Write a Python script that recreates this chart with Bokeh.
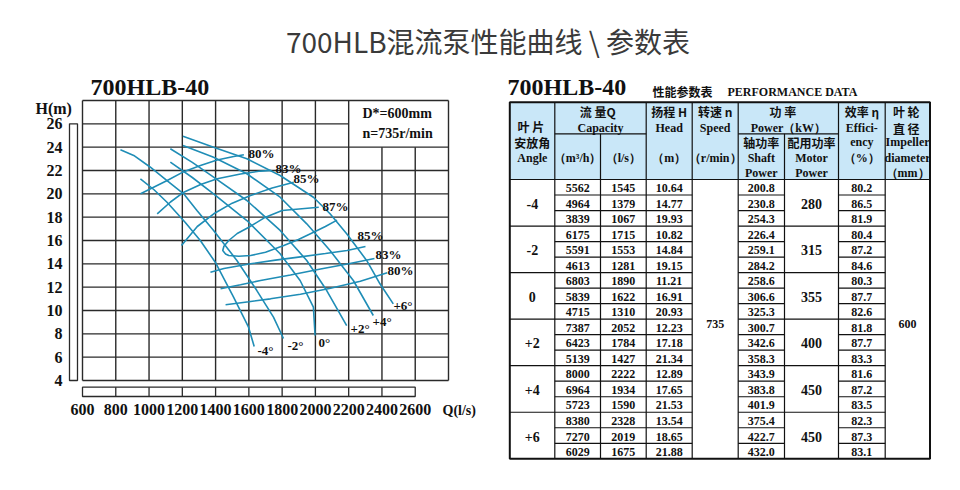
from bokeh.plotting import figure
from bokeh.models import Range1d, LinearAxis, FixedTicker, AllLabels
from bokeh.layouts import column, row
from bokeh.embed import file_html
from bokeh.resources import INLINE
from bokeh.core.properties import value

# ============================== DATA ==============================
page_title = "700HLB混流泵性能曲线 \\ 参数表"
model_name = "700HLB-40"

x_ticks = [600, 800, 1000, 1200, 1400, 1600, 1800, 2000, 2200, 2400, 2600]
y_ticks = [4, 6, 8, 10, 12, 14, 16, 18, 20, 22, 24, 26]
x_label = "Q(l/s)"
y_label = "H(m)"
note_text = ["D*=600mm", "n=735r/min"]
note_q = [2283, 2283]
note_h = [26.89, 25.17]

# blade-angle H-Q curves  (Q in l/s, H in m)
q_m4 = [948, 1030, 1108, 1218, 1308, 1398, 1508, 1598, 1632]
h_m4 = [21.29, 20.35, 19.28, 17.54, 16.0, 14.14, 11.14, 8.57, 6.91]
q_m2 = [828, 908, 1008, 1108, 1208, 1288, 1388, 1528, 1648, 1748, 1808]
h_m2 = [23.77, 23.29, 22.28, 21.14, 20.0, 18.57, 16.86, 14.29, 11.71, 9.43, 7.6]
q_0 = [1128, 1260, 1388, 1588, 1788, 1908, 1988, 1998]
h_0 = [22.71, 21.4, 20.0, 17.71, 14.86, 12.57, 10.29, 7.86]
q_p2 = [1128, 1260, 1388, 1588, 1788, 1948, 2068, 2188]
h_p2 = [23.86, 22.7, 21.43, 19.43, 16.86, 14.29, 11.71, 8.71]
q_p4 = [1204, 1388, 1588, 1788, 1948, 2088, 2228, 2348]
h_p4 = [24.14, 23.14, 21.72, 19.71, 17.43, 15.14, 12.57, 9.57]
q_p6 = [1204, 1388, 1588, 1788, 1988, 2088, 2188, 2308, 2388, 2468]
h_p6 = [24.94, 24.0, 23.0, 21.57, 19.71, 18.29, 16.57, 14.29, 12.29, 10.57]
angle_names = ["-4°", "-2°", "0°", "+2°", "+4°", "+6°"]
angle_lab_q = [1652, 1832, 2018, 2211, 2343, 2469]
angle_lab_h = [6.57, 7.0, 7.26, 8.5, 9.06, 10.43]

# efficiency iso-lines
q_e80u = [949, 1109, 1209, 1309, 1409, 1509, 1570]
h_e80u = [20.0, 21.14, 21.9, 22.43, 22.9, 23.2, 23.35]
q_e83u = [1049, 1129, 1209, 1310, 1410, 1550, 1670, 1735]
h_e83u = [18.29, 19.3, 20.14, 20.8, 21.29, 21.7, 21.95, 22.0]
q_e85u = [1195, 1290, 1389, 1500, 1610, 1740, 1870]
h_e85u = [15.57, 17.2, 18.29, 19.2, 19.86, 20.5, 21.0]
q_e87 = [2020, 1800, 1700, 1600, 1530, 1479, 1450, 1443, 1460, 1479, 1540,
         1610, 1700, 1810, 1898, 1989, 2060, 2130]
h_e87 = [18.85, 18.57, 18.0, 17.14, 16.6, 16.0, 15.5, 15.14, 14.85, 14.71,
         14.65, 14.71, 15.0, 15.57, 16.09, 16.71, 17.2, 17.75]
q_e85r = [1369, 1450, 1610, 1760, 1910, 2060, 2190, 2301]
h_e85r = [13.28, 13.6, 14.0, 14.32, 14.6, 14.88, 15.15, 15.49]
q_e83r = [1430, 1550, 1670, 1850, 2031, 2200, 2355]
h_e83r = [11.86, 12.2, 12.57, 13.05, 13.55, 14.0, 14.46]
q_e80r = [1460, 1600, 1730, 1910, 2091, 2270, 2432]
h_e80r = [10.49, 10.75, 11.0, 11.4, 11.9, 12.5, 13.23]
eff_names = ["80%", "83%", "85%", "87%", "85%", "83%", "80%"]
eff_lab_q = [1598, 1760, 1868, 2043, 2253, 2361, 2433]
eff_lab_h = [23.46, 22.17, 21.31, 18.91, 16.39, 14.8, 13.43]

# performance table
tbl_subtitle_cn = "性能参数表"
tbl_subtitle_en = "PERFORMANCE  DATA"
tbl_angles = ["-4", "-2", "0", "+2", "+4", "+6"]
tbl_q_m3h = [5562, 4964, 3839, 6175, 5591, 4613, 6803, 5839, 4715,
             7387, 6423, 5139, 8000, 6964, 5723, 8380, 7270, 6029]
tbl_q_ls = [1545, 1379, 1067, 1715, 1553, 1281, 1890, 1622, 1310,
            2052, 1784, 1427, 2222, 1934, 1590, 2328, 2019, 1675]
tbl_head = [10.64, 14.77, 19.93, 10.82, 14.84, 19.15, 11.21, 16.91, 20.93,
            12.23, 17.18, 21.34, 12.89, 17.65, 21.53, 13.54, 18.65, 21.88]
tbl_shaft = [200.8, 230.8, 254.3, 226.4, 259.1, 284.2, 258.6, 306.6, 325.3,
             300.7, 342.6, 358.3, 343.9, 383.8, 401.9, 375.4, 422.7, 432.0]
tbl_motor = [280, 315, 355, 400, 450, 450]
tbl_eff = [80.2, 86.5, 81.9, 80.4, 87.2, 84.6, 80.3, 87.7, 82.6,
           81.8, 87.7, 83.3, 81.6, 87.2, 83.5, 82.3, 87.3, 83.1]
tbl_speed = 735
tbl_impeller = 600

# ============================== STYLE ==============================
CURVE = "#1f8db6"
GRID = "#2a2a2a"
INK = "#111111"
SERIF = "Liberation Serif"
CJK = "Noto Sans CJK SC"
HEAD_BG = "#c9e7f8"

# ============================== TITLE ==============================
tf = figure(width=952, height=70, x_range=Range1d(0, 952), y_range=Range1d(70, 0),
            x_axis_type=None, y_axis_type=None, toolbar_location=None,
            output_backend="svg", min_border=0)
tf.outline_line_color = None
tf.text(x=[487.5], y=[40], text=[page_title], text_font=value(CJK),
        text_font_size="28px", text_color="#3a3a3a", text_align="center",
        text_baseline="middle")

# ============================== CHART ==============================
# chart figure covers page x 0..495, y 70..482; grid 600..2800 spans page x 82..448,
# 4..28 m spans page y 380..100
PX = 2200 / 366.0
PY = 24 / 280.0
c = figure(width=495, height=412,
           x_range=Range1d(600 - 82 * PX, 600 + 413 * PX),
           y_range=Range1d(28 - 382 * PY, 28 + 30 * PY),
           x_axis_type=None, y_axis_type=None, toolbar_location=None,
           output_backend="svg", min_border=0)
c.outline_line_color = None

grid_x = list(range(x_ticks[0], 2801, 200))
grid_y = list(range(y_ticks[0], 29, 2))
vx, vy0, vy1 = [], [], []
for gx in grid_x:
    vx.append(gx)
    vy0.append(4)
    vy1.append(24 if 2200 < gx < 2800 else 28)
c.segment(x0=vx, y0=vy0, x1=vx, y1=vy1, line_color=GRID, line_width=1.4)
hy, hx0, hx1 = [], [], []
for gy in grid_y:
    hy.append(gy)
    hx0.append(600)
    hx1.append(2200 if 24 < gy < 28 else 2800)
c.segment(x0=hx0, y0=hy, x1=hx1, y1=hy, line_color=GRID, line_width=1.4)

# axis strips
c.quad(left=[600 - 13 * PX], right=[600 - 5 * PX], bottom=[y_ticks[0]], top=[y_ticks[-1]],
       fill_color=None, line_color=GRID, line_width=1.3)
sb, st = 28 - 296 * PY, 28 - 286.7 * PY
c.quad(left=[x_ticks[0]], right=[x_ticks[-1]], bottom=[sb], top=[st],
       fill_color=None, line_color=GRID, line_width=1.3)
c.segment(x0=x_ticks[1:-1], y0=[sb] * (len(x_ticks) - 2), x1=x_ticks[1:-1],
          y1=[st] * (len(x_ticks) - 2), line_color=GRID, line_width=1.3)

blade_q = [q_m4, q_m2, q_0, q_p2, q_p4, q_p6]
blade_h = [h_m4, h_m2, h_0, h_p2, h_p4, h_p6]
eff_q = [q_e80u, q_e83u, q_e85u, q_e87, q_e85r, q_e83r, q_e80r]
eff_h = [h_e80u, h_e83u, h_e85u, h_e87, h_e85r, h_e83r, h_e80r]
c.multi_line(xs=blade_q, ys=blade_h, line_color=CURVE, line_width=1.6)
c.multi_line(xs=eff_q, ys=eff_h, line_color=CURVE, line_width=1.6)

c.text(x=eff_lab_q, y=eff_lab_h, text=eff_names, text_font=value(SERIF),
       text_font_size="13px", text_font_style="bold", text_color=INK,
       text_align="left", text_baseline="middle")
c.text(x=angle_lab_q, y=angle_lab_h, text=angle_names, text_font=value(SERIF),
       text_font_size="13px", text_font_style="bold", text_color=INK,
       text_align="left", text_baseline="middle")
c.text(x=note_q, y=note_h, text=note_text, text_font=value(SERIF),
       text_font_size="14px", text_font_style="bold", text_color=INK,
       text_align="left", text_baseline="middle")

ya = LinearAxis(fixed_location=600 - 16 * PX, ticker=FixedTicker(ticks=y_ticks),
                major_tick_out=0, major_tick_in=0, minor_tick_out=0, minor_tick_in=0,
                axis_line_color=None, major_label_standoff=4, major_label_text_font=SERIF,
                major_label_text_font_style="bold", major_label_text_font_size="16px",
                major_label_text_color=INK, major_label_policy=AllLabels())
c.add_layout(ya, "left")
xa = LinearAxis(fixed_location=28 - 298 * PY, ticker=FixedTicker(ticks=x_ticks),
                major_tick_out=0, major_tick_in=0, minor_tick_out=0, minor_tick_in=0,
                axis_line_color=None, major_label_standoff=5, major_label_text_font=SERIF,
                major_label_text_font_style="bold", major_label_text_font_size="16px",
                major_label_text_color=INK, major_label_policy=AllLabels())
c.add_layout(xa, "below")

c.text(x=[600 - 47 * PX], y=[28 - 7.5 * PY], text=[y_label], text_font=value(SERIF),
       text_font_size="16px", text_font_style="bold", text_color=INK,
       text_align="left", text_baseline="middle")
c.text(x=[600 + 360 * PX], y=[28 - 310 * PY], text=[x_label], text_font=value(SERIF),
       text_font_size="14px", text_font_style="bold", text_color=INK,
       text_align="left", text_baseline="middle")
c.text(x=[600 + 8 * PX], y=[28 + 13.5 * PY], text=[model_name], text_font=value(SERIF),
       text_font_size="24px", text_font_style="bold", text_color=INK,
       text_align="left", text_baseline="middle")

# ============================== TABLE ==============================
t = figure(width=457, height=412, x_range=Range1d(495, 952), y_range=Range1d(482, 70),
           x_axis_type=None, y_axis_type=None, toolbar_location=None,
           output_backend="svg", min_border=0)
t.outline_line_color = None

edges = [509.3, 554.3, 600.0, 645.7, 691.7, 737.7, 784.0, 838.0, 884.7, 929.5]
top, mid, hb, bot = 101.7, 133.3, 179.0, 458.3
nrows = len(tbl_q_m3h)
rh = (bot - hb) / nrows
cx = [(edges[i] + edges[i + 1]) / 2 for i in range(9)]

t.quad(left=[edges[0]], right=[edges[-1]], top=[top], bottom=[hb],
       fill_color=HEAD_BG, line_color=None)

sx0, sy0, sx1, sy1 = [], [], [], []
def seg(a, b, c_, d):
    sx0.append(a); sy0.append(b); sx1.append(c_); sy1.append(d)

for i, e in enumerate(edges[1:-1], start=1):
    seg(e, hb, e, bot)
    if i in (2, 6):
        seg(e, mid, e, hb)
    else:
        seg(e, top, e, hb)
seg(edges[1], mid, edges[3], mid)
seg(edges[5], mid, edges[7], mid)
seg(edges[0], hb, edges[-1], hb)
for i in range(1, nrows):
    y = hb + i * rh
    if i % 3 == 0:
        seg(edges[0], y, edges[4], y)
        seg(edges[5], y, edges[8], y)
    else:
        seg(edges[1], y, edges[4], y)
        seg(edges[5], y, edges[6], y)
        seg(edges[7], y, edges[8], y)
t.segment(x0=sx0, y0=sy0, x1=sx1, y1=sy1, line_color=INK, line_width=1.2)
t.quad(left=[edges[0]], right=[edges[-1]], top=[top], bottom=[bot],
       fill_color=None, line_color=INK, line_width=2)

# titles above table
t.text(x=[507], y=[86.7], text=[model_name], text_font=value(SERIF), text_font_size="24px",
       text_font_style="bold", text_color=INK, text_align="left", text_baseline="middle")
t.text(x=[652], y=[91], text=[tbl_subtitle_cn], text_font=value(CJK), text_font_size="12px",
       text_font_style="bold", text_color=INK, text_align="left", text_baseline="middle")
t.text(x=[727], y=[91.5], text=[tbl_subtitle_en], text_font=value(SERIF), text_font_size="12px",
       text_font_style="bold", text_color=INK, text_align="left", text_baseline="middle")

# header
hdr_cn = [("叶  片", cx[0], 126), ("安放角", cx[0], 141.5), ("流   量Q", 600, 111),
          ("扬程 H", cx[3], 111), ("转速 n", cx[4], 111), ("功     率", 787.8, 111),
          ("轴功率", cx[5], 141.5), ("配用功率", cx[6], 141.5), ("效率 η", cx[7], 111),
          ("叶  轮", cx[8], 111), ("直  径", cx[8], 127.5)]
hdr_en = [("Angle", cx[0], 157.5), ("Capacity", 600, 127.5), ("（m³/h）", cx[1], 157.5),
          ("（l/s）", cx[2], 157.5), ("Head", cx[3], 127.5), ("（m）", cx[3], 157.5),
          ("Speed", cx[4], 127.5), ("（r/min）", cx[4], 157.5), ("Power（kW）", 787.8, 127.5),
          ("Shaft", cx[5], 157.5), ("Power", cx[5], 172.5), ("Motor", cx[6], 157.5),
          ("Power", cx[6], 172.5), ("Effici-", cx[7], 127.5), ("ency", cx[7], 141.5),
          ("（%）", cx[7], 157.5), ("Impeller", cx[8], 141.5), ("diameter", cx[8], 157.5),
          ("（mm）", cx[8], 172.5)]
t.text(x=[h[1] for h in hdr_cn], y=[h[2] for h in hdr_cn], text=[h[0] for h in hdr_cn],
       text_font=value(CJK), text_font_size="12px", text_font_style="bold", text_color=INK,
       text_align="center", text_baseline="middle")
t.text(x=[h[1] for h in hdr_en], y=[h[2] for h in hdr_en], text=[h[0] for h in hdr_en],
       text_font=value(SERIF), text_font_size="12px", text_font_style="bold", text_color=INK,
       text_align="center", text_baseline="middle")

# body
row_y = [hb + (i + 0.5) * rh + 1 for i in range(nrows)]
grp_y = [hb + (3 * g + 1.5) * rh + 1 for g in range(len(tbl_angles))]
bx, by, btxt = [], [], []
for i in range(nrows):
    for col, s in ((1, f"{tbl_q_m3h[i]}"), (2, f"{tbl_q_ls[i]}"), (3, f"{tbl_head[i]:.2f}"),
                   (5, f"{tbl_shaft[i]:.1f}"), (7, f"{tbl_eff[i]:.1f}")):
        bx.append(cx[col]); by.append(row_y[i]); btxt.append(s)
t.text(x=bx, y=by, text=btxt, text_font=value(SERIF), text_font_size="12px",
       text_font_style="bold", text_color=INK, text_align="center", text_baseline="middle")
t.text(x=[cx[0]] * len(tbl_angles), y=grp_y, text=tbl_angles, text_font=value(SERIF),
       text_font_size="14px", text_font_style="bold", text_color=INK, text_align="center",
       text_baseline="middle")
t.text(x=[cx[6]] * len(tbl_motor), y=grp_y, text=[str(m) for m in tbl_motor],
       text_font=value(SERIF), text_font_size="14px", text_font_style="bold", text_color=INK,
       text_align="center", text_baseline="middle")
body_mid = (hb + bot) / 2 + 4.5
t.text(x=[cx[4], cx[8]], y=[body_mid, body_mid], text=[str(tbl_speed), str(tbl_impeller)],
       text_font=value(SERIF), text_font_size="12px", text_font_style="bold", text_color=INK,
       text_align="center", text_baseline="middle")

layout = column(tf, row(c, t))
open("out.html", "w").write(file_html(layout, INLINE))
